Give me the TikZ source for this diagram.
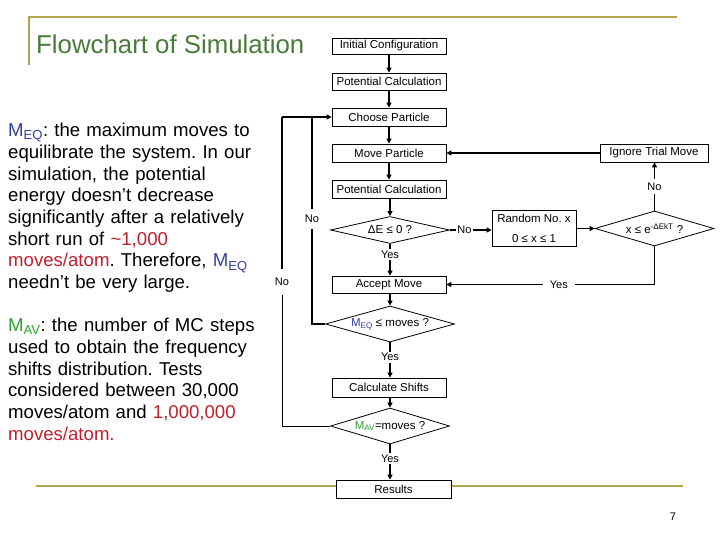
\documentclass[tikz,border=0pt]{standalone}
\usepackage{fontspec}
\setmainfont{Liberation Sans}
\usetikzlibrary{shapes.geometric,arrows.meta}
\definecolor{ruleolive}{RGB}{176,164,80}
\definecolor{titlegreen}{RGB}{74,122,58}
\definecolor{meqblue}{RGB}{48,62,160}
\definecolor{mavgreen}{RGB}{46,160,46}
\definecolor{numred}{RGB}{192,32,44}
\frenchspacing
\begin{document}
\begin{tikzpicture}[x=1pt,y=-1pt,
  box/.style={draw, line width=0.8pt, fill=white, minimum height=18pt, minimum width=114pt, inner sep=0pt, font=\fontsize{11.5}{13}\selectfont},
  dia/.style={diamond, aspect=4.5, draw, line width=0.8pt, fill=white, minimum width=119pt, minimum height=27pt, inner sep=0pt, font=\fontsize{11.5}{13}\selectfont},
  conn/.style={line width=1.6pt},
  thinconn/.style={line width=0.9pt},
  arr/.style={conn, -{Triangle[length=5pt,width=5pt]}},
  lab/.style={fill=white, font=\fontsize{11}{13}\selectfont, inner sep=1.5pt},
  para/.style={anchor=north west, inner sep=0pt, text width=300pt, align=left, font=\fontsize{18.6}{21.7}\selectfont}
]
\useasboundingbox (0,0) rectangle (720,540);
% slide rules
\draw[ruleolive, line width=2pt] (29,65) -- (29,17) -- (677,17);
\draw[ruleolive, line width=2pt] (36,486) -- (683,486);
% title
\node[anchor=west, text=titlegreen, font=\fontsize{25.8}{30}\selectfont, inner sep=0pt] (title) at (36,44) {Flowchart of Simulation};
% left text
\node[para] (p1) at (8,123) {{\color{meqblue}M\textsubscript{EQ}}: the maximum moves to\\
equilibrate the system. In our\\
simulation, the potential\\
energy doesn’t decrease\\
significantly after a relatively\\
short run of {\color{numred}\textasciitilde1,000}\\
{\color{numred}moves/atom}. Therefore, {\color{meqblue}M\textsubscript{EQ}}\\
needn’t be very large.};
\node[para] (p2) at (8,318) {{\color{mavgreen}M\textsubscript{AV}}: the number of MC steps\\
used to obtain the frequency\\
shifts distribution. Tests\\
considered between 30,000\\
moves/atom and {\color{numred}1,000,000}\\
{\color{numred}moves/atom.}};
% flowchart nodes
\node[box, minimum height=16pt] (init) at (389,46) {Initial Configuration};
\node[box, minimum height=17pt] (pc1) at (389,81.5) {Potential Calculation};
\node[box] (choose) at (389,117) {Choose Particle};
\node[box] (move) at (389,153) {Move Particle};
\node[box] (pc2) at (389,189) {Potential Calculation};
\node[dia] (dE) at (390,230) {ΔE ≤ 0 ?};
\node[box, minimum width=84pt, minimum height=36pt, align=center, font=\fontsize{11.5}{20}\selectfont] (rand) at (534,228.5) {Random No. x\\0 ≤ x ≤ 1};
\node[dia, minimum height=35pt] (xle) at (654.5,228.5) {x ≤ e\textsuperscript{-ΔEkT} ?};
\node[box, minimum width=108pt] (ignore) at (654,153) {Ignore Trial Move};
\node[box, minimum height=17pt] (accept) at (389,284.5) {Accept Move};
\node[dia, minimum height=36pt] (meq) at (390,324) {{\color{meqblue}M\textsubscript{EQ}} ≤ moves ?};
\node[box, minimum height=19pt] (calc) at (389,387.5) {Calculate Shifts};
\node[dia, minimum height=36pt] (mav) at (390,426) {{\color{mavgreen}M\textsubscript{AV}}=moves ?};
\node[box, minimum width=115pt] (results) at (393.5,489) {Results};
\node[font=\fontsize{11}{13}\selectfont, inner sep=0pt] (pagenum) at (673,517) {7};
% junction coordinates for the loops back
\coordinate (j1) at (312,117);
\coordinate (j2) at (282,117);
\coordinate (nolab) at (282,282);
% connectors
\draw[arr] (init.south) -- (init.south |- pc1.north);
\draw[arr] (pc1.south) -- (pc1.south |- choose.north);
\draw[arr] (choose.south) -- (choose.south |- move.north);
\draw[arr] (move.south) -- (move.south |- pc2.north);
\draw[arr] (pc2.south -| dE.north) -- (dE.north);
\draw[arr] (dE.south) -- node[lab, pos=0.33] {Yes} (dE.south |- accept.north);
\draw[arr] (dE.east) -- node[lab, pos=0.35] {No} (dE.east -| rand.west);
\draw[arr] (rand.east) -- (rand.east -| xle.west);
\draw[arr] (xle.north) -- node[lab, inner ysep=4pt] {No} (xle.north |- ignore.south);
\draw[arr] (ignore.west) -- (ignore.west -| move.east);
\draw[arr] (xle.south) |- node[lab, pos=0.73, inner xsep=7pt] {Yes} (accept.east);
\draw[arr] (accept.south -| meq.north) -- (meq.north);
\draw[arr] (meq.south) -- node[lab, pos=0.42] {Yes} (meq.south |- calc.north);
\draw[arr] (calc.south -| mav.north) -- (mav.north);
\draw[arr] (mav.south) -- node[lab, pos=0.4] {Yes} (mav.south |- results.north);
% loops back to Choose Particle
\draw[conn] (meq.west) -| node[lab, pos=0.754, inner ysep=6pt] {No} (j1);
\draw[thinconn] (mav.west) -| (nolab);
\draw[conn] (nolab) -- (j2);
\node[lab, inner ysep=9pt] at (nolab) {No};
\draw[arr] (j2) -- (choose.west);
\end{tikzpicture}
\end{document}
